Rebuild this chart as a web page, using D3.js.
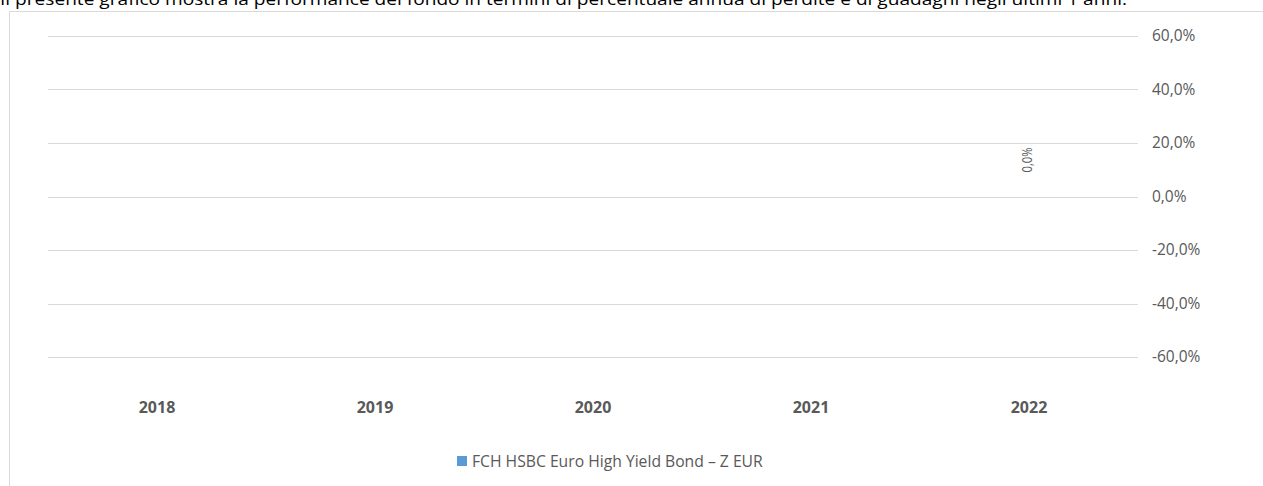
<!DOCTYPE html>
<html>
<head>
<meta charset="utf-8">
<script src="https://cdn.jsdelivr.net/npm/d3@7"></script>
<style>
  html, body { margin: 0; padding: 0; background: #fff; overflow: hidden; }
  svg { display: block; }
</style>
</head>
<body>
<svg id="chart" width="1263" height="486"></svg>
<script>
const introText = "Il presente grafico mostra la performance del fondo in termini di percentuale annua di perdite e di guadagni negli ultimi 1 anni.";
const categories = ["2018", "2019", "2020", "2021", "2022"];
const seriesName = "FCH HSBC Euro High Yield Bond \u2013 Z EUR";
const seriesValues = [null, null, null, null, 0.0];
const yTicks = [0.6, 0.4, 0.2, 0.0, -0.2, -0.4, -0.6];

const svg = d3.select("#chart");
const font = "'Open Sans', 'Liberation Sans', sans-serif";
const grey = "#595959";
const fmt = v => {
  const s = (Math.abs(v) * 100).toFixed(1).replace(".", ",") + "%";
  return (v < -1e-9 ? "-" : "") + s;
};

// intro text (cut at top like the reference)
svg.append("text")
  .attr("x", 0).attr("y", 5)
  .attr("font-family", font).attr("font-size", 17)
  .attr("fill", "#000")
  .attr("textLength", 1127).attr("lengthAdjust", "spacingAndGlyphs")
  .text(introText);

// chart area border
svg.append("path")
  .attr("d", "M9.5,486 L9.5,11.5 L1263,11.5")
  .attr("fill", "none").attr("stroke", "#d9d9d9").attr("stroke-width", 1);

const x = d3.scaleBand().domain(categories).range([48, 1138]).paddingInner(0.5).paddingOuter(0.25);
const y = d3.scaleLinear().domain([-0.6, 0.6]).range([357, 36]);

// gridlines
svg.append("g").selectAll("line").data(yTicks).join("line")
  .attr("x1", 48).attr("x2", 1138)
  .attr("y1", d => Math.round(y(d)) + 0.5).attr("y2", d => Math.round(y(d)) + 0.5)
  .attr("stroke", "#d9d9d9").attr("stroke-width", 1);

// right y axis labels
const yAxis = d3.axisRight(y).tickValues(yTicks).tickFormat(fmt).tickSize(0).tickPadding(0);
const gy = svg.append("g").attr("transform", "translate(1152,0)").call(yAxis);
gy.select(".domain").remove();
gy.selectAll("text").attr("font-family", font).attr("font-size", 15.5).attr("fill", grey);

// x axis labels
const xAxis = d3.axisBottom(x).tickSize(0).tickPadding(0);
const gx = svg.append("g").attr("transform", "translate(0,400)").call(xAxis);
gx.select(".domain").remove();
gx.selectAll("text").attr("font-family", font).attr("font-size", 16)
  .attr("font-weight", "bold").attr("fill", grey).attr("dy", "0.35em").attr("y", 7);

// bars
const data = categories.map((c, i) => ({ c, v: seriesValues[i] })).filter(d => d.v !== null);
svg.append("g").selectAll("rect").data(data).join("rect")
  .attr("x", d => x(d.c))
  .attr("width", x.bandwidth())
  .attr("y", d => y(Math.max(0, d.v)))
  .attr("height", d => Math.abs(y(d.v) - y(0)))
  .attr("fill", "#5b9bd5");

// data labels (rotated)
svg.append("g").selectAll("text").data(data).join("text")
  .attr("transform", d => `translate(${x(d.c) + x.bandwidth() / 2 + 3},${y(Math.max(0, d.v)) - 24}) rotate(-90)`)
  .attr("text-anchor", "start")
  .attr("font-family", font).attr("font-size", 14.5).attr("fill", grey)
  .attr("textLength", 25).attr("lengthAdjust", "spacingAndGlyphs")
  .text(d => fmt(d.v));

// legend
const lg = svg.append("g").attr("transform", "translate(457,456)");
lg.append("rect").attr("width", 10).attr("height", 10).attr("fill", "#5b9bd5");
lg.append("text").attr("x", 15).attr("y", 5).attr("dy", "0.35em")
  .attr("font-family", font).attr("font-size", 15.7).attr("fill", grey)
  .text(seriesName);
</script>
</body>
</html>
